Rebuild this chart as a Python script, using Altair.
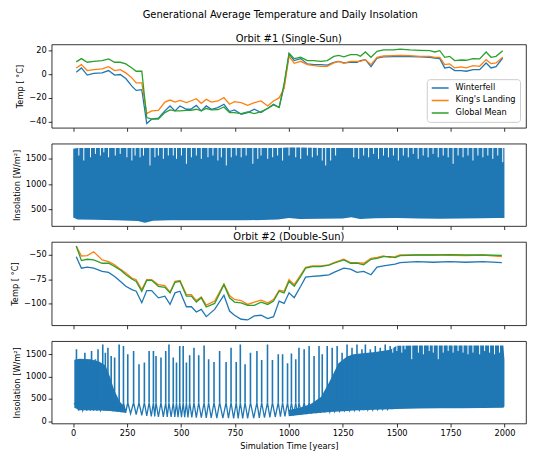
import altair as alt
import pandas as pd

FONT = "DejaVu Sans"
BLUE, ORANGE, GREEN = "#1f77b4", "#ff7f0e", "#2ca02c"
names = ["Winterfell", "King's Landing", "Global Mean"]

# ---------------- Orbit #1 temperatures ----------------
years1 = [14, 38, 65, 95, 134, 164, 192, 218, 244, 272,
          292, 318, 341, 364, 395, 425, 449, 472, 495, 525,
          545, 571, 594, 617, 641, 671, 699, 725, 748, 779,
          809, 840, 871, 902, 929, 955, 978, 1001, 1025, 1055,
          1086, 1117, 1147, 1178, 1209, 1232, 1255, 1286, 1316, 1332,
          1355, 1381, 1409, 1439, 1485, 1516, 1562, 1608, 1654, 1677,
          1700, 1723, 1746, 1769, 1800, 1823, 1854, 1885, 1915, 1938,
          1961, 1992]
winterfell1 = [1.8, 5.4, -0.7, 0.7, 1.2, 3.2, -0.7, -0.2, -3.6, -10,
               -13.6, -13, -41.7, -38, -37.2, -31, -26.8, -31, -26.8, -29.6,
               -29.6, -26.3, -31, -26.8, -29.6, -28.2, -25.4, -31.6, -30.2, -33.8,
               -32.4, -29.6, -32.4, -28.8, -25.4, -28.2, -10, 17.2, 11.6, 13.3,
               8.8, 8.2, 8.2, 7.7, 10.2, 11, 9.6, 10.2, 10.2, 11.6,
               12.4, 6.5, 13.8, 14.7, 15, 15.2, 15, 14.7, 14.4, 13.8,
               13.3, 5.4, 6, 3.2, 3.2, 2.6, 4, 4, 9.6, 5.4,
               6.5, 13.8]
kings1 = [5.4, 8.2, 3.2, 4, 4.6, 6.5, 3.2, 4, 1.2, -3,
          -7.2, -7.2, -33.3, -31, -30.5, -23.5, -21.8, -23.5, -22.1, -24,
          -22.6, -20.7, -24.6, -21.2, -23.5, -22.6, -19.8, -25.4, -23.2, -24,
          -26.3, -24, -22.6, -26.8, -22.6, -20, -12, 15.2, 9.3, 11,
          8.2, 7.4, 6.8, 6.8, 9.6, 11, 9.3, 11, 11, 11,
          12.4, 8.2, 14.4, 15.5, 15.8, 16, 15.8, 15.2, 15.2, 14.4,
          14.4, 8.2, 8.8, 5.4, 6.3, 5.4, 7.4, 6.8, 12.4, 9,
          9.6, 14.4]
globalmean1 = [10.5, 13.3, 10.2, 11, 11.6, 13, 10.2, 10.2, 8.8, 5.4,
               2.6, 2.6, -36.6, -38, -38, -32.4, -30.2, -31, -31, -30.5,
               -30.5, -29.6, -31, -29, -30.2, -30, -27.7, -32.4, -32.4, -33.3,
               -31.9, -33.3, -31.6, -29, -26, -28, -8, 18, 13.3, 14.4,
               11.6, 11.6, 11, 11.6, 15.2, 16, 14.7, 16.6, 16.6, 15.2,
               18.9, 14.4, 19.4, 20.6, 20.6, 21.4, 20.6, 20.3, 20, 18.9,
               20, 14.4, 15.2, 11.6, 12.1, 11.9, 13.3, 13, 18.9, 14.4,
               15.2, 20]

# ---------------- Orbit #2 temperatures ----------------
years2 = [14, 38, 65, 95, 134, 164, 192, 218, 244, 272,
          292, 318, 341, 364, 395, 425, 449, 472, 495, 525,
          548, 571, 594, 617, 656, 699, 725, 748, 779, 809,
          840, 871, 902, 929, 955, 978, 1001, 1025, 1055, 1078,
          1109, 1147, 1186, 1209, 1255, 1286, 1316, 1347, 1381, 1409,
          1439, 1470, 1493, 1516, 1593, 1670, 1746, 1823, 1900, 1988]
winterfell2 = [-51.7, -63.6, -62.6, -63.6, -67, -68, -72.1, -77.2, -82.3, -85.7,
               -87.4, -99.3, -86.7, -86.7, -94.2, -92.5, -101, -89.1, -87.4, -103.4,
               -103.4, -108.8, -106.1, -113.6, -106.1, -91.5, -107.8, -112.2, -116.3, -117,
               -112.9, -112.2, -115.6, -113.6, -97.6, -100, -89, -94, -82.3, -72.8,
               -72.1, -71.4, -70.4, -68, -63.6, -64.6, -68, -67, -70.4, -62.6,
               -61.2, -60.2, -59.5, -57.8, -56.8, -57.5, -56.8, -57.5, -56.8, -57.8]
kings2 = [-40.8, -51, -50.7, -46.6, -55.1, -56.8, -60.2, -64.6, -68.7, -73.8,
          -75.5, -85.7, -75.5, -75.5, -80.6, -81.6, -88.4, -77.2, -76.2, -90.8,
          -90.8, -97, -93.2, -101.7, -97.6, -79.9, -91.8, -95.9, -97, -101,
          -98.6, -96.6, -99.3, -95.9, -86.4, -87.4, -75.5, -80.6, -70.4, -62.6,
          -61.2, -61.2, -60.2, -57.8, -54.4, -57.8, -57.8, -58.5, -53.4, -52.4,
          -51, -52.7, -51.7, -50, -50, -50, -50.3, -50.7, -50, -51.7]
globalmean2 = [-40.8, -55.8, -54.4, -55.1, -58.5, -58.5, -61.9, -65.3, -70.4, -74.8,
               -77.2, -87.4, -76.2, -76.2, -82.3, -83.3, -89.1, -78.2, -77.2, -92.5,
               -92.5, -98.6, -94.2, -103.7, -100, -80.6, -94.2, -98.6, -99.3, -102,
               -102, -98.6, -101, -97.6, -87.4, -89.1, -77.2, -82.3, -72.1, -63.6,
               -61.9, -61.9, -60.5, -58.5, -55.1, -58.5, -58.5, -60.2, -54.4, -53.4,
               -51.7, -51.7, -52.7, -50.7, -50, -50, -49.7, -50, -50, -50.3]

# ---------------- Orbit #1 insolation (daily band envelope + dips) ----------------
ins1_years = [0, 20, 100, 200, 300, 333, 370, 450, 600, 800,
              950, 1000, 1050, 1150, 1250, 1290, 1330, 1400, 1500, 1600,
              1700, 1800, 1900, 1960, 2000]
ins1_low = [340, 300, 295, 285, 270, 240, 275, 285, 285, 285,
            300, 330, 310, 315, 320, 345, 310, 325, 330, 320,
            315, 320, 325, 330, 330]
ins1_high = [1700, 1715, 1715, 1715, 1715, 1715, 1715, 1715, 1715, 1715,
             1715, 1725, 1725, 1715, 1715, 1715, 1715, 1715, 1715, 1715,
             1715, 1715, 1715, 1715, 1715]
dip1_years = [26, 49, 80, 103, 126, 142, 164, 195, 218, 249,
              272, 287, 310, 326, 356, 379, 395, 418, 441, 464,
              479, 502, 525, 548, 571, 594, 625, 648, 671, 687,
              710, 733, 756, 779, 802, 833, 856, 871, 902, 925,
              948, 971, 1001, 1032, 1055, 1086, 1109, 1132, 1155, 1171,
              1194, 1217, 1301, 1324, 1347, 1370, 1393, 1416, 1439, 1462,
              1485, 1508, 1531, 1554, 1577, 1600, 1623, 1646, 1669, 1693,
              1716, 1739, 1762, 1785, 1808, 1831, 1854, 1877, 1900, 1923,
              1946, 1969, 1992]
dip1_depth = [1565, 1467, 1531, 1598, 1565, 1629, 1531, 1565, 1598, 1531,
              1467, 1565, 1531, 1565, 1369, 1531, 1565, 1500, 1565, 1565,
              1500, 1565, 1402, 1531, 1565, 1500, 1531, 1565, 1467, 1531,
              1369, 1531, 1565, 1531, 1565, 1402, 1500, 1565, 1500, 1531,
              1565, 1467, 1565, 1531, 1500, 1565, 1531, 1565, 1467, 1369,
              1467, 1565, 1531, 1500, 1565, 1531, 1598, 1500, 1565, 1531,
              1565, 1467, 1565, 1531, 1598, 1500, 1565, 1531, 1598, 1531,
              1565, 1531, 1402, 1565, 1531, 1565, 1467, 1565, 1531, 1565,
              1500, 1565, 1435]

# ---------------- Orbit #2 insolation ----------------
band2_seg = ["early"] * 9 + ["late"] * 17
band2_years = [5, 30, 80, 120, 150, 170, 190, 215, 240,
               1000, 1050, 1100, 1150, 1190, 1230, 1270, 1300, 1400, 1470, 1500,
               1600, 1700, 1800, 1900, 1995, 2000]
band2_low = [300, 245, 245, 240, 235, 228, 220, 205, 190,
             110, 140, 170, 190, 205, 220, 232, 240, 260, 270, 275,
             285, 290, 290, 295, 300, 330]
band2_high = [1380, 1400, 1390, 1340, 1250, 1000, 700, 450, 300,
              250, 300, 380, 550, 900, 1300, 1450, 1500, 1550, 1600, 1690,
              1700, 1700, 1700, 1700, 1700, 1370]
# daily-cycle maxima (peaks) and the minima between them
spikes2 = [(3, 380), (15, 1611), (25, 240), (34, 1390), (44, 240), (54, 1537), (63, 240),
           (72, 1352), (79, 240), (85, 1573), (94, 240), (103, 1390), (109, 240), (115, 1611),
           (126, 240), (137, 1722), (143, 240), (149, 1537), (155, 235), (161, 1648), (168, 230),
           (176, 1463), (184, 225), (192, 1426), (202, 215), (213, 1722), (223, 205), (233, 1685),
           (243, 190), (253, 1500), (266, 170), (280, 1573), (292, 150), (305, 1279), (318, 130),
           (330, 1316), (341, 120), (352, 1573), (362, 110), (372, 1573), (378, 110), (384, 1463),
           (395, 100), (407, 1426), (418, 100), (429, 1573), (436, 95), (444, 1722), (454, 95),
           (464, 1426), (471, 95), (479, 1316), (486, 90), (494, 1685), (502, 90), (510, 1685),
           (517, 90), (525, 1316), (532, 85), (540, 1478), (550, 85), (560, 1648), (571, 80),
           (582, 1478), (594, 80), (607, 1700), (617, 75), (628, 1390), (640, 75), (653, 1330),
           (666, 70), (679, 1573), (694, 70), (709, 1330), (720, 70), (732, 1648), (744, 65),
           (756, 1330), (765, 65), (775, 1722), (786, 65), (797, 1279), (809, 65), (822, 1537),
           (837, 70), (852, 1573), (863, 75), (874, 1375), (887, 80), (901, 1722), (912, 85),
           (924, 1375), (937, 95), (951, 1500), (961, 100), (971, 1500), (982, 110), (994, 1300),
           (1003, 120), (1012, 1520), (1022, 130), (1032, 1390), (1040, 140), (1047, 1648),
           (1059, 150), (1071, 1611), (1082, 160), (1094, 1685), (1105, 170), (1117, 1463),
           (1128, 180), (1140, 1685), (1147, 190), (1155, 1500), (1166, 200), (1178, 1685),
           (1190, 210), (1201, 1648), (1212, 220), (1224, 1685), (1235, 230), (1247, 1537),
           (1258, 240), (1270, 1722), (1281, 240), (1293, 1648), (1304, 245), (1316, 1722),
           (1327, 250), (1339, 1611), (1347, 250), (1355, 1722), (1366, 255), (1378, 1611),
           (1389, 255), (1401, 1685), (1412, 260), (1424, 1648), (1435, 265), (1447, 1722),
           (1458, 265), (1470, 1685), (1480, 270)]
SPIKE_BASE = 420  # level where a narrow daily-maximum spike widens into its valley
dip2_years = [1482, 1501, 1524, 1539, 1570, 1601, 1624, 1651, 1670, 1693, 1716,
              1739, 1762, 1785, 1808, 1831, 1854, 1885, 1908, 1931, 1954, 1977]
dip2_depth = [1537, 1573, 1537, 1611, 1390, 1537, 1500, 1573, 1537, 1390, 1537,
              1573, 1537, 1573, 1537, 1500, 1537, 1500, 1573, 1537, 1500, 1537]

x_ticks = [0, 250, 500, 750, 1000, 1250, 1500, 1750, 2000]

# ---------------- helpers ----------------
W = 478
X_DOM = [-100, 2100]


def xenc(last):
    if last:
        ax = alt.Axis(values=x_ticks, format="d", title="Simulation Time [years]")
    else:
        ax = alt.Axis(values=x_ticks, labels=False, title=None)
    return alt.X("year:Q", scale=alt.Scale(domain=X_DOM, nice=False, zero=False), axis=ax)


def yscale(dom):
    return alt.Scale(domain=dom, nice=False, zero=False)


legend = alt.Legend(title=None, orient="bottom-right", offset=6, fillColor="white",
                    strokeColor="#cccccc", padding=4, cornerRadius=3,
                    symbolType="M-1,0H1", symbolStrokeWidth=1.5, symbolSize=290,
                    labelFontSize=8.3, labelFont=FONT, labelColor="black",
                    rowPadding=2.5, labelOffset=6, clipHeight=10)


def temp_panel(years, series, dom, ticks, height, title, show_legend):
    layers = []
    for nm, vals in zip(names, series):
        df = pd.DataFrame({"year": years, "temp": vals, "series": nm})
        if show_legend:
            color = alt.Color("series:N", sort=names,
                              scale=alt.Scale(domain=names, range=[BLUE, ORANGE, GREEN]),
                              legend=legend)
        else:
            color = alt.Color("series:N", sort=names,
                              scale=alt.Scale(domain=names, range=[BLUE, ORANGE, GREEN]),
                              legend=None)
        layers.append(
            alt.Chart(df).mark_line(strokeWidth=1.3, clip=True).encode(
                x=xenc(False),
                y=alt.Y("temp:Q", scale=yscale(dom),
                        axis=alt.Axis(values=ticks, format="d", title="Temp [ °C]")),
                color=color,
            )
        )
    return alt.layer(*layers).properties(
        width=W, height=height,
        title=alt.TitleParams(title, font=FONT, fontSize=10, fontWeight="normal",
                              color="black", offset=0))


p1 = temp_panel(years1, [winterfell1, kings1, globalmean1], [-45.3, 25.3], [-40, -20, 0, 20], 84,
                "Orbit #1 (Single-Sun)", True)
p3 = temp_panel(years2, [winterfell2, kings2, globalmean2], [-122.5, -36.5], [-100, -75, -50], 84,
                "Orbit #2 (Double-Sun)", False)

ins_title = "Insolation [W/m²]"

# panel 2
ins1_df = pd.DataFrame({"year": ins1_years, "low": ins1_low, "high": ins1_high})
dip1_df = pd.DataFrame({"year": dip1_years, "depth": dip1_depth})
y2_axis = alt.Axis(values=[500, 1000, 1500], format="d", title=ins_title)
dom2 = [173, 1800]
band1 = alt.Chart(ins1_df).mark_area(color=BLUE, clip=True).encode(
    x=xenc(False), y=alt.Y("low:Q", scale=yscale(dom2), axis=y2_axis), y2="high:Q")
dips1 = alt.Chart(dip1_df).mark_rule(color="white", strokeWidth=1, clip=True).encode(
    x=xenc(False), y=alt.Y("depth:Q", scale=yscale(dom2), axis=y2_axis), y2=alt.datum(1740))
p2 = alt.layer(band1, dips1).properties(width=W, height=83)

# panel 4
band2_df = pd.DataFrame({"year": band2_years, "low": band2_low, "high": band2_high, "seg": band2_seg})
peak_df = pd.DataFrame({"year": [a for a, b in spikes2 if b > 1000],
                        "ins": [b for a, b in spikes2 if b > 1000]})
floor_df = pd.DataFrame({"year": [a for a, b in spikes2],
                         "ins": [SPIKE_BASE if b > 1000 else b for a, b in spikes2]})
dip2_df = pd.DataFrame({"year": dip2_years, "depth": dip2_depth})
y4_axis = alt.Axis(values=[0, 500, 1000, 1500], format="d", title=ins_title)
dom4 = [-51, 1795]
band2 = alt.Chart(band2_df).mark_area(color=BLUE, clip=True).encode(
    x=xenc(True), y=alt.Y("low:Q", scale=yscale(dom4), axis=y4_axis), y2="high:Q", detail="seg:N")
floor = alt.Chart(floor_df).mark_line(color=BLUE, strokeWidth=1.3, clip=True).encode(
    x=xenc(True), y=alt.Y("ins:Q", scale=yscale(dom4), axis=y4_axis))
peaks = alt.Chart(peak_df).mark_rule(color=BLUE, strokeWidth=1.6, clip=True).encode(
    x=xenc(True), y=alt.Y("ins:Q", scale=yscale(dom4), axis=y4_axis), y2=alt.datum(SPIKE_BASE))
dips2 = alt.Chart(dip2_df).mark_rule(color="white", strokeWidth=1, clip=True).encode(
    x=xenc(True), y=alt.Y("depth:Q", scale=yscale(dom4), axis=y4_axis), y2=alt.datum(1740))
p4 = alt.layer(band2, floor, peaks, dips2).properties(width=W, height=83)

chart = alt.vconcat(p1, p2, p3, p4, spacing=16, bounds="flush").resolve_legend(
    color="independent"
).properties(
    title=alt.TitleParams("Generational Average Temperature and Daily Insolation", font=FONT,
                          fontSize=10, fontWeight="normal", color="black", anchor="middle",
                          dx=12, offset=14),
    padding={"left": 2, "top": 0, "right": 0, "bottom": 0},
).configure_axis(
    labelFont=FONT, titleFont=FONT, labelFontSize=8.3, titleFontSize=8.3,
    labelColor="black", titleColor="black", tickColor="black", tickSize=3.5, tickWidth=0.8,
    domain=False, grid=False, labelPadding=2, titlePadding=4, titleFontWeight="normal",
).configure_view(stroke="black", strokeWidth=0.8)

chart.save("out.html", embed_options={"renderer": "svg", "actions": False})
